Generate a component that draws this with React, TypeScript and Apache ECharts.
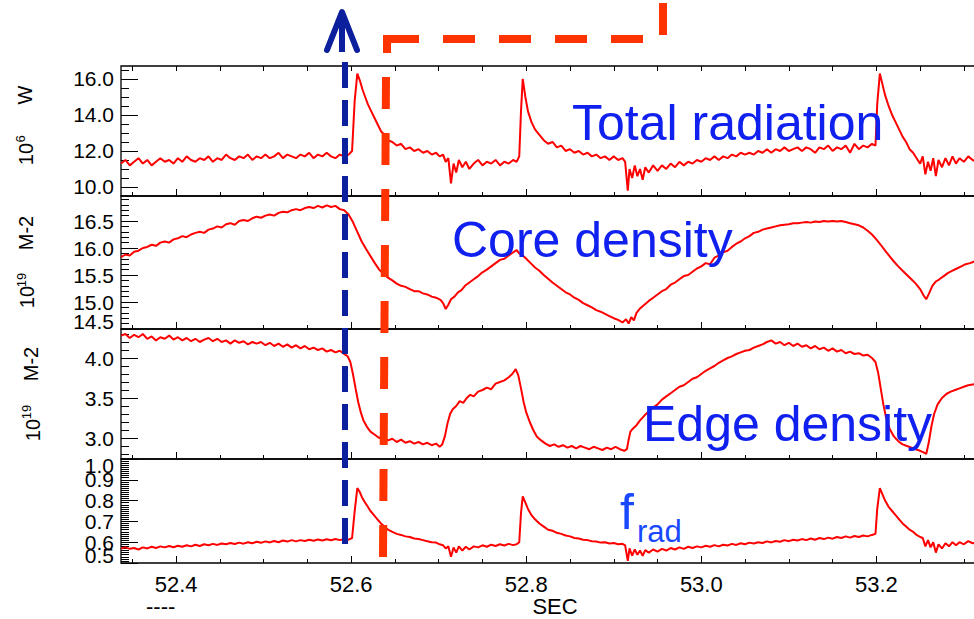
import React, { useEffect, useRef } from "react";
import * as echarts from "echarts";

// ---------- data ----------
const radiation: number[][] = [
  [52.337,11.3],[52.342,11.5],[52.347,11.2],[52.352,11.4],[52.357,11.6],[52.362,11.3],[52.367,11.5],[52.372,11.2],[52.377,11.4],[52.382,11.6],
  [52.387,11.4],[52.392,11.5],[52.397,11.3],[52.402,11.6],[52.407,11.4],[52.412,11.7],[52.417,11.5],[52.422,11.4],[52.427,11.6],[52.432,11.5],
  [52.437,11.7],[52.442,11.4],[52.447,11.6],[52.452,11.5],[52.457,11.8],[52.462,11.6],[52.467,11.5],[52.472,11.7],[52.477,11.6],[52.482,11.8],
  [52.487,11.5],[52.492,11.7],[52.497,11.6],[52.502,11.8],[52.507,11.6],[52.512,11.7],[52.517,11.9],[52.522,11.6],[52.527,11.8],[52.532,11.7],
  [52.537,11.6],[52.542,11.8],[52.547,11.7],[52.552,11.9],[52.557,11.6],[52.562,11.8],[52.567,11.7],[52.572,11.9],[52.577,11.7],[52.582,11.6],
  [52.587,11.8],[52.592,11.7],[52.597,11.8],[52.601,12.0],
  [52.604,14.8],[52.607,16.3],[52.610,15.9],[52.613,15.4],[52.616,15.0],[52.619,14.6],[52.622,14.3],[52.626,13.9],[52.630,13.5],[52.634,13.1],
  [52.638,12.9],[52.642,12.6],[52.647,12.5],[52.652,12.3],[52.657,12.4],[52.662,12.1],[52.667,12.2],[52.672,12.0],[52.677,12.1],[52.682,11.9],
  [52.687,12.0],[52.692,11.8],[52.697,11.9],[52.701,11.7],[52.705,11.8],[52.708,11.4],[52.711,11.6],[52.714,10.2],[52.717,11.3],[52.720,10.8],
  [52.723,11.5],[52.727,11.1],[52.731,11.4],[52.735,11.0],[52.740,11.3],[52.745,11.5],[52.750,11.2],[52.755,11.4],[52.760,11.3],[52.765,11.5],
  [52.770,11.2],[52.775,11.4],[52.780,11.3],[52.785,11.5],[52.789,11.4],[52.792,11.7],
  [52.794,14.2],[52.796,16.0],[52.799,15.0],[52.802,14.2],[52.806,13.6],[52.810,13.2],[52.815,12.9],[52.820,12.6],[52.825,12.4],[52.830,12.5],
  [52.835,12.2],[52.840,12.3],[52.845,12.0],[52.850,12.1],[52.855,11.9],[52.860,12.0],[52.865,11.8],[52.870,11.9],[52.875,11.7],[52.880,11.8],
  [52.885,11.6],[52.890,11.7],[52.895,11.5],[52.900,11.7],[52.905,11.5],[52.910,11.6],[52.913,11.4],
  [52.916,9.8],[52.918,11.0],[52.921,10.5],[52.924,11.2],[52.927,10.6],[52.930,11.0],[52.933,10.4],[52.936,11.1],[52.940,10.8],[52.945,11.2],
  [52.950,10.9],[52.955,11.2],[52.960,11.0],[52.965,11.3],[52.970,11.1],[52.975,11.4],[52.980,11.2],[52.985,11.4],[52.990,11.3],[52.995,11.5],
  [53.000,11.4],[53.005,11.6],[53.010,11.5],[53.015,11.7],[53.020,11.5],[53.025,11.7],[53.030,11.6],[53.035,11.8],[53.040,11.7],[53.045,11.9],
  [53.050,11.8],[53.055,11.9],[53.060,11.8],[53.065,12.0],[53.070,11.9],[53.075,12.1],[53.080,11.9],[53.085,12.1],[53.090,12.0],[53.095,12.2],
  [53.100,12.0],[53.105,12.1],[53.110,12.2],[53.115,12.0],[53.120,12.2],[53.125,12.1],[53.130,11.9],[53.135,12.2],[53.140,12.1],[53.145,12.3],
  [53.150,12.0],[53.155,12.2],[53.160,12.1],[53.165,12.3],[53.170,11.9],[53.175,12.4],[53.180,12.1],[53.185,12.3],[53.190,12.2],[53.195,12.4],
  [53.199,12.3],
  [53.201,14.6],[53.204,16.3],[53.207,15.7],[53.210,15.1],[53.214,14.5],[53.218,14.0],[53.222,13.6],[53.226,13.2],[53.230,12.8],[53.234,12.5],
  [53.238,12.1],[53.242,11.9],[53.246,11.6],[53.250,11.3],[53.253,11.7],[53.256,10.7],[53.259,11.4],[53.262,10.9],[53.265,11.6],[53.268,10.6],
  [53.271,11.5],[53.275,11.1],[53.279,11.6],[53.283,11.2],[53.287,11.7],[53.291,11.3],[53.295,11.6],[53.300,11.4],[53.305,11.7],[53.310,11.5],
  [53.315,11.4],[53.320,11.6],[53.326,11.5],[53.331,11.6],
];

const coreDensity: number[][] = [
  [52.337,15.83],[52.342,15.88],[52.347,15.86],[52.352,15.93],[52.357,15.95],[52.362,16.0],[52.367,16.02],[52.372,16.06],[52.377,16.04],[52.382,16.1],
  [52.387,16.12],[52.392,16.1],[52.397,16.16],[52.402,16.18],[52.407,16.22],[52.412,16.2],[52.417,16.25],[52.422,16.28],[52.427,16.3],[52.432,16.28],
  [52.437,16.34],[52.442,16.36],[52.447,16.4],[52.452,16.38],[52.457,16.44],[52.462,16.46],[52.467,16.43],[52.472,16.5],[52.477,16.52],[52.482,16.5],
  [52.487,16.55],[52.492,16.58],[52.497,16.56],[52.502,16.6],[52.507,16.62],[52.512,16.6],[52.517,16.65],[52.522,16.67],[52.527,16.66],[52.532,16.7],
  [52.537,16.72],[52.542,16.7],[52.547,16.74],[52.552,16.76],[52.557,16.74],[52.562,16.78],[52.567,16.75],[52.572,16.79],[52.577,16.76],[52.582,16.78],
  [52.587,16.72],[52.592,16.7],[52.597,16.62],[52.602,16.48],[52.607,16.3],[52.612,16.12],[52.617,15.98],[52.622,15.85],[52.627,15.72],[52.632,15.6],
  [52.637,15.52],[52.642,15.45],[52.647,15.4],[52.652,15.34],[52.657,15.3],[52.662,15.28],[52.667,15.24],[52.672,15.2],[52.677,15.2],[52.682,15.16],
  [52.687,15.14],[52.692,15.1],[52.697,15.08],[52.702,15.04],[52.705,14.98],[52.708,14.87],[52.711,14.95],[52.714,15.05],[52.718,15.1],[52.722,15.18],
  [52.726,15.22],[52.730,15.3],[52.735,15.36],[52.740,15.42],[52.745,15.48],[52.750,15.55],[52.755,15.6],[52.760,15.66],[52.765,15.72],[52.770,15.78],
  [52.775,15.8],[52.780,15.86],[52.785,15.92],[52.789,15.96],[52.792,15.9],[52.796,15.86],[52.800,15.8],[52.805,15.72],[52.810,15.64],[52.815,15.58],
  [52.820,15.5],[52.825,15.43],[52.830,15.36],[52.835,15.3],[52.840,15.24],[52.845,15.18],[52.850,15.14],[52.855,15.08],[52.860,15.04],[52.865,14.98],
  [52.870,14.94],[52.875,14.9],[52.880,14.85],[52.885,14.82],[52.890,14.78],[52.895,14.74],[52.900,14.7],[52.905,14.67],[52.910,14.62],[52.914,14.68],
  [52.917,14.6],[52.920,14.72],[52.923,14.66],[52.926,14.8],[52.930,14.88],[52.935,14.95],[52.940,15.02],[52.945,15.08],[52.950,15.14],[52.955,15.2],
  [52.960,15.24],[52.965,15.32],[52.970,15.36],[52.975,15.42],[52.980,15.48],[52.985,15.5],[52.990,15.56],[52.995,15.62],[53.000,15.66],[53.005,15.72],
  [53.010,15.7],[53.015,15.82],[53.020,15.86],[53.025,15.92],[53.030,15.95],[53.035,16.02],[53.040,16.08],[53.045,16.12],[53.050,16.18],[53.055,16.22],
  [53.060,16.28],[53.065,16.3],[53.070,16.34],[53.075,16.36],[53.080,16.38],[53.085,16.4],[53.090,16.42],[53.095,16.43],[53.100,16.44],[53.105,16.46],
  [53.110,16.46],[53.115,16.47],[53.120,16.48],[53.125,16.47],[53.130,16.49],[53.135,16.48],[53.140,16.5],[53.145,16.49],[53.150,16.5],[53.155,16.49],
  [53.160,16.5],[53.165,16.48],[53.170,16.46],[53.175,16.44],[53.180,16.42],[53.185,16.38],[53.190,16.32],[53.195,16.25],[53.200,16.16],[53.205,16.06],
  [53.210,15.95],[53.215,15.85],[53.220,15.75],[53.225,15.66],[53.230,15.58],[53.235,15.5],[53.240,15.42],[53.245,15.34],[53.250,15.24],[53.254,15.12],
  [53.257,15.05],[53.260,15.15],[53.264,15.3],[53.268,15.38],[53.272,15.42],[53.277,15.48],[53.282,15.54],[53.287,15.58],[53.292,15.62],[53.297,15.66],
  [53.302,15.7],[53.307,15.72],[53.312,15.75],[53.317,15.78],[53.322,15.8],[53.327,15.78],[53.331,15.8],
];

const edgeDensity: number[][] = [
  [52.337,4.28],[52.342,4.3],[52.347,4.25],[52.352,4.29],[52.357,4.26],[52.362,4.3],[52.367,4.24],[52.372,4.27],[52.377,4.22],[52.382,4.26],
  [52.387,4.24],[52.392,4.28],[52.397,4.23],[52.402,4.26],[52.407,4.22],[52.412,4.25],[52.417,4.21],[52.422,4.24],[52.427,4.2],[52.432,4.23],
  [52.437,4.25],[52.442,4.21],[52.447,4.24],[52.452,4.2],[52.457,4.22],[52.462,4.18],[52.467,4.22],[52.472,4.19],[52.477,4.21],[52.482,4.17],
  [52.487,4.2],[52.492,4.18],[52.497,4.2],[52.502,4.16],[52.507,4.19],[52.512,4.15],[52.517,4.18],[52.522,4.14],[52.527,4.17],[52.532,4.13],
  [52.537,4.16],[52.542,4.12],[52.547,4.15],[52.552,4.11],[52.557,4.13],[52.562,4.1],[52.567,4.12],[52.572,4.08],[52.577,4.1],[52.582,4.07],
  [52.587,4.09],[52.592,4.05],[52.596,4.02],[52.599,3.95],[52.602,3.8],[52.605,3.62],[52.608,3.45],[52.611,3.32],[52.614,3.22],[52.618,3.14],
  [52.622,3.08],[52.627,3.04],[52.632,3.0],[52.637,3.02],[52.642,2.97],[52.647,2.99],[52.652,2.95],[52.657,2.98],[52.662,2.94],[52.667,2.96],
  [52.672,2.93],[52.677,2.95],[52.682,2.92],[52.687,2.94],[52.692,2.91],[52.697,2.93],[52.701,2.89],[52.704,2.92],[52.707,3.02],[52.710,3.18],
  [52.713,3.3],[52.716,3.36],[52.720,3.4],[52.724,3.46],[52.728,3.44],[52.732,3.5],[52.736,3.54],[52.740,3.52],[52.745,3.58],[52.750,3.6],
  [52.755,3.63],[52.760,3.61],[52.765,3.68],[52.770,3.7],[52.775,3.72],[52.780,3.76],[52.784,3.8],[52.788,3.86],[52.791,3.78],[52.794,3.62],
  [52.797,3.45],[52.800,3.32],[52.804,3.2],[52.808,3.1],[52.812,3.02],[52.817,2.97],[52.822,2.93],[52.827,2.9],[52.832,2.92],[52.837,2.89],
  [52.842,2.91],[52.847,2.88],[52.852,2.9],[52.857,2.87],[52.862,2.9],[52.867,2.88],[52.872,2.86],[52.877,2.89],[52.882,2.87],[52.887,2.85],
  [52.892,2.88],[52.897,2.86],[52.902,2.89],[52.907,2.86],[52.912,2.84],[52.915,2.86],[52.917,2.98],[52.919,3.08],[52.922,3.12],[52.926,3.16],
  [52.930,3.22],[52.935,3.28],[52.940,3.33],[52.945,3.38],[52.950,3.42],[52.955,3.48],[52.960,3.52],[52.965,3.56],[52.970,3.6],[52.975,3.64],
  [52.980,3.66],[52.985,3.7],[52.990,3.74],[52.995,3.76],[53.000,3.8],[53.005,3.84],[53.010,3.87],[53.015,3.9],[53.020,3.94],[53.025,3.97],
  [53.030,4.0],[53.035,4.02],[53.040,4.05],[53.045,4.07],[53.050,4.09],[53.055,4.1],[53.060,4.13],[53.065,4.15],[53.070,4.17],[53.075,4.2],
  [53.080,4.22],[53.085,4.18],[53.090,4.2],[53.095,4.16],[53.100,4.19],[53.105,4.15],[53.110,4.18],[53.115,4.14],[53.120,4.16],[53.125,4.12],
  [53.130,4.15],[53.135,4.11],[53.140,4.13],[53.145,4.09],[53.150,4.12],[53.155,4.08],[53.160,4.1],[53.165,4.06],[53.170,4.08],[53.175,4.05],
  [53.180,4.06],[53.185,4.03],[53.190,4.04],[53.195,4.0],[53.199,3.95],[53.202,3.82],[53.205,3.62],[53.208,3.42],[53.211,3.26],[53.215,3.12],
  [53.220,3.02],[53.225,2.96],[53.230,2.92],[53.235,2.9],[53.240,2.88],[53.245,2.86],[53.250,2.84],[53.254,2.82],[53.257,2.8],[53.260,2.95],
  [53.263,3.15],[53.266,3.3],[53.270,3.42],[53.275,3.5],[53.280,3.55],[53.285,3.58],[53.290,3.6],[53.295,3.62],[53.300,3.64],[53.305,3.66],
  [53.310,3.67],[53.315,3.68],[53.320,3.7],[53.326,3.69],[53.331,3.7],
];

const fRad: number[][] = [
  [52.337,0.57],[52.342,0.575],[52.347,0.568],[52.352,0.572],[52.357,0.565],[52.362,0.575],[52.367,0.57],[52.372,0.578],[52.377,0.572],[52.382,0.58],
  [52.387,0.575],[52.392,0.582],[52.397,0.576],[52.402,0.583],[52.407,0.578],[52.412,0.585],[52.417,0.58],[52.422,0.588],[52.427,0.582],[52.432,0.59],
  [52.437,0.585],[52.442,0.592],[52.447,0.587],[52.452,0.594],[52.457,0.59],[52.462,0.596],[52.467,0.591],[52.472,0.598],[52.477,0.593],[52.482,0.6],
  [52.487,0.595],[52.492,0.602],[52.497,0.597],[52.502,0.604],[52.507,0.599],[52.512,0.606],[52.517,0.6],[52.522,0.608],[52.527,0.603],[52.532,0.61],
  [52.537,0.604],[52.542,0.61],[52.547,0.606],[52.552,0.612],[52.557,0.607],[52.562,0.613],[52.567,0.608],[52.572,0.614],[52.577,0.609],[52.582,0.615],
  [52.587,0.61],[52.592,0.616],[52.597,0.612],[52.601,0.62],
  [52.604,0.75],[52.607,0.86],[52.610,0.84],[52.613,0.81],[52.616,0.79],[52.619,0.77],[52.622,0.75],[52.626,0.73],[52.630,0.71],[52.634,0.69],
  [52.638,0.675],[52.642,0.66],[52.647,0.65],[52.652,0.64],[52.657,0.635],[52.662,0.628],[52.667,0.625],[52.672,0.618],[52.677,0.615],[52.682,0.61],
  [52.687,0.605],[52.692,0.6],[52.697,0.598],[52.701,0.59],[52.705,0.585],[52.708,0.57],[52.711,0.58],[52.714,0.53],[52.717,0.575],[52.720,0.55],
  [52.723,0.58],[52.727,0.56],[52.731,0.578],[52.735,0.565],[52.740,0.58],[52.745,0.575],[52.750,0.585],[52.755,0.578],[52.760,0.588],[52.765,0.582],
  [52.770,0.59],[52.775,0.584],[52.780,0.592],[52.785,0.586],[52.789,0.59],[52.792,0.6],
  [52.794,0.74],[52.796,0.82],[52.799,0.79],[52.802,0.76],[52.806,0.73],[52.810,0.71],[52.815,0.69],[52.820,0.675],[52.825,0.66],[52.830,0.655],
  [52.835,0.645],[52.840,0.64],[52.845,0.632],[52.850,0.628],[52.855,0.62],[52.860,0.618],[52.865,0.612],[52.870,0.61],[52.875,0.605],[52.880,0.603],
  [52.885,0.598],[52.890,0.6],[52.895,0.594],[52.900,0.596],[52.905,0.59],[52.910,0.592],[52.913,0.585],
  [52.916,0.51],[52.918,0.57],[52.921,0.535],[52.924,0.565],[52.927,0.54],[52.930,0.56],[52.933,0.535],[52.936,0.562],[52.940,0.55],[52.945,0.565],
  [52.950,0.555],[52.955,0.568],[52.960,0.56],[52.965,0.572],[52.970,0.565],[52.975,0.575],[52.980,0.568],[52.985,0.578],[52.990,0.572],[52.995,0.58],
  [53.000,0.575],[53.005,0.583],[53.010,0.578],[53.015,0.586],[53.020,0.58],[53.025,0.588],[53.030,0.584],[53.035,0.592],[53.040,0.587],[53.045,0.595],
  [53.050,0.59],[53.055,0.598],[53.060,0.594],[53.065,0.6],[53.070,0.596],[53.075,0.604],[53.080,0.599],[53.085,0.606],[53.090,0.602],[53.095,0.61],
  [53.100,0.605],[53.105,0.612],[53.110,0.608],[53.115,0.615],[53.120,0.61],[53.125,0.618],[53.130,0.612],[53.135,0.62],[53.140,0.615],[53.145,0.622],
  [53.150,0.617],[53.155,0.625],[53.160,0.62],[53.165,0.628],[53.170,0.622],[53.175,0.63],[53.180,0.625],[53.185,0.632],[53.190,0.628],[53.195,0.635],
  [53.199,0.64],
  [53.201,0.76],[53.204,0.86],[53.207,0.83],[53.210,0.8],[53.214,0.77],[53.218,0.75],[53.222,0.73],[53.226,0.71],[53.230,0.69],[53.234,0.675],
  [53.238,0.66],[53.242,0.65],[53.246,0.635],[53.250,0.625],[53.253,0.62],[53.256,0.58],[53.259,0.61],[53.262,0.575],[53.265,0.6],[53.268,0.55],
  [53.271,0.59],[53.275,0.57],[53.279,0.595],[53.283,0.58],[53.287,0.6],[53.291,0.585],[53.295,0.6],[53.300,0.59],[53.305,0.605],[53.310,0.595],
  [53.315,0.6],[53.320,0.592],[53.326,0.602],[53.331,0.598],
];

const xTickLabels = [52.4, 52.6, 52.8, 53.0, 53.2];
const radTicks = [10, 12, 14, 16];
const coreTicks = [14.5, 15, 15.5, 16, 16.5];
const edgeTicks = [3.0, 3.5, 4.0];
const fradTicks = [0.5, 0.6, 0.7, 0.8, 0.9, 1.0];

// axis titles: [base, superscript, unit]
const radTitle = ["10", "6", "W"];
const coreTitle = ["10", "19", "M-2"];
const edgeTitle = ["10", "19", "M-2"];

// ---------- helpers ----------
function steps(a: number, b: number, step: number, exclude: number[]) {
  const out: number[] = [];
  const n = Math.round((b - a) / step);
  for (let i = 0; i <= n; i++) {
    const v = +(a + i * step).toFixed(4);
    if (!exclude.some((e) => Math.abs(e - v) < 1e-6)) out.push(v);
  }
  return out;
}

const FONT = "'Liberation Sans', Arial, Helvetica, sans-serif";
const X_MIN = 52.337;
const X_MAX = 53.331;
const GRID_LEFT = 121;
const GRID_WIDTH = 870;

const xMinor = steps(52.35, 53.3, 0.05, xTickLabels);
const xAll = steps(52.35, 53.3, 0.05, []);

const panels = [
  { top: 66, height: 130, min: 9.5, max: 16.72, major: radTicks, minor: steps(10, 16.5, 0.5, radTicks), data: radiation, lo: false, hi: false },
  { top: 196, height: 133, min: 14.5, max: 16.963, major: coreTicks, minor: steps(14.6, 16.9, 0.1, coreTicks), data: coreDensity, lo: true, hi: false },
  { top: 329, height: 130, min: 2.7375, max: 4.3625, major: edgeTicks, minor: steps(2.8, 4.3, 0.1, edgeTicks), data: edgeDensity, lo: false, hi: false },
  { top: 459, height: 104, min: 0.5, max: 1.0, major: fradTicks, minor: steps(0.51, 0.99, 0.01, fradTicks), data: fRad, lo: true, hi: true },
];

// rotated text (reads bottom to top)
function vText(x: number, y: number, text: string, size: number) {
  return {
    type: "text", x, y, rotation: Math.PI / 2, z: 100,
    style: { text, fontSize: size, fontFamily: FONT, fill: "#000", align: "center", verticalAlign: "middle" },
  };
}

export default function App() {
  const ref = useRef<HTMLDivElement>(null);
  useEffect(() => {
    if (!ref.current) return;
    const chart = echarts.init(ref.current, null, { renderer: "svg" });
    const grid: any[] = [];
    const xAxis: any[] = [];
    const yAxis: any[] = [];
    const series: any[] = [];
    const tickStyle = { color: "#000", width: 1 };
    const noLine = { show: false, onZero: false };

    panels.forEach((p, i) => {
      grid.push({
        left: GRID_LEFT, top: p.top, width: GRID_WIDTH, height: p.height,
        show: true, borderColor: "#000", borderWidth: 1.3, backgroundColor: "transparent",
      });
      const xMajorIndex = xAxis.length;
      xAxis.push({
        gridIndex: i, type: "value", min: X_MIN, max: X_MAX, position: "bottom",
        axisLine: noLine, splitLine: { show: false },
        axisTick: { show: true, inside: true, length: 7, customValues: xTickLabels, lineStyle: tickStyle },
        axisLabel: {
          show: i === 3, customValues: xTickLabels, fontSize: 22, margin: 10, color: "#000", fontFamily: FONT,
          formatter: (v: number) => v.toFixed(1),
        },
      });
      xAxis.push({
        gridIndex: i, type: "value", min: X_MIN, max: X_MAX, position: "bottom",
        axisLine: noLine, splitLine: { show: false },
        axisTick: { show: true, inside: true, length: 4, customValues: xMinor, lineStyle: tickStyle },
        axisLabel: { show: false },
      });
      const yMainIndex = yAxis.length;
      yAxis.push({
        gridIndex: i, type: "value", min: p.min, max: p.max, position: "left",
        axisLine: noLine, splitLine: { show: false },
        axisTick: { show: true, inside: true, length: 17, customValues: p.major, lineStyle: tickStyle },
        axisLabel: { show: false },
      });
      yAxis.push({
        gridIndex: i, type: "value", min: p.min, max: p.max, position: "left",
        axisLine: noLine, splitLine: { show: false },
        axisTick: { show: true, inside: true, length: 8, customValues: p.minor, lineStyle: tickStyle },
        axisLabel: { show: false },
      });
      // labels split into alternating groups so none is hidden by overlap checks
      [0, 1].forEach((parity) => {
        const vals = p.major.filter((_, k) => k % 2 === parity);
        yAxis.push({
          gridIndex: i, type: "value", min: p.min, max: p.max, position: "left",
          axisLine: noLine, splitLine: { show: false }, axisTick: { show: false },
          axisLabel: {
            show: true, customValues: vals, fontSize: 21, margin: 7, color: "#000", fontFamily: FONT,
            showMinLabel: true, showMaxLabel: true,
            formatter: (v: number) => {
              const s = v.toFixed(1);
              if (p.lo && Math.abs(v - p.min) < 1e-6) return `{lo|${s}}`;
              if (p.hi && Math.abs(v - p.max) < 1e-6) return `{hi|${s}}`;
              return s;
            },
            rich: {
              lo: { fontSize: 21, fontFamily: FONT, color: "#000", padding: [0, 0, 16, 0] },
              hi: { fontSize: 21, fontFamily: FONT, color: "#000", padding: [12, 0, 0, 0] },
            },
          },
        });
      });
      series.push({
        type: "line", xAxisIndex: xMajorIndex, yAxisIndex: yMainIndex, data: p.data,
        showSymbol: false, symbol: "none", clip: true,
        lineStyle: { color: "#ff0000", width: 2 },
      });
    });
    xAxis.push({
      gridIndex: 0, type: "value", min: X_MIN, max: X_MAX, position: "top",
      axisLine: noLine, splitLine: { show: false },
      axisTick: { show: true, inside: true, length: 5, customValues: xAll, lineStyle: tickStyle },
      axisLabel: { show: false },
    });

    const blue = "#0c1f9c";
    const red = "#ff3300";
    const annBlue = "#1020ee";
    const graphic: any[] = [
      // axis titles
      vText(25, 95, radTitle[2], 20),
      vText(26, 154, radTitle[0], 20),
      vText(20, 139, radTitle[1], 13),
      vText(26, 233, coreTitle[2], 20),
      vText(27, 297, coreTitle[0], 20),
      vText(21, 280, coreTitle[1], 13),
      vText(31, 364, edgeTitle[2], 20),
      vText(33, 430, edgeTitle[0], 20),
      vText(26, 412, edgeTitle[1], 13),
      { type: "text", x: 555, y: 606, z: 100,
        style: { text: "SEC", fontSize: 22, fontFamily: FONT, fill: "#000", align: "center", verticalAlign: "middle" } },
      { type: "text", x: 146, y: 606, z: 100,
        style: { text: "----", fontSize: 22, fontFamily: FONT, fill: "#000", align: "left", verticalAlign: "middle" } },
      // annotations
      { type: "text", x: 572, y: 123, z: 100,
        style: { text: "Total radiation", fontSize: 50, fontFamily: FONT, fill: annBlue, align: "left", verticalAlign: "middle" } },
      { type: "text", x: 452, y: 240, z: 100,
        style: { text: "Core density", fontSize: 50, fontFamily: FONT, fill: annBlue, align: "left", verticalAlign: "middle" } },
      { type: "text", x: 643, y: 424, z: 100,
        style: { text: "Edge density", fontSize: 50, fontFamily: FONT, fill: annBlue, align: "left", verticalAlign: "middle" } },
      { type: "text", x: 620, y: 512, z: 100,
        style: { text: "f", fontSize: 50, fontFamily: FONT, fill: "#1848ff", align: "left", verticalAlign: "middle" } },
      { type: "text", x: 637, y: 531, z: 100,
        style: { text: "rad", fontSize: 31, fontFamily: FONT, fill: "#1848ff", align: "left", verticalAlign: "middle" } },
      // blue dashed marker with arrow
      { type: "line", z: 110, shape: { x1: 345, y1: 62, x2: 345, y2: 552 },
        style: { stroke: blue, lineWidth: 6, lineDash: [26, 12] } },
      { type: "line", z: 110, shape: { x1: 342, y1: 14, x2: 342, y2: 52 },
        style: { stroke: blue, lineWidth: 6 } },
      { type: "polyline", z: 110, shape: { points: [[327, 50], [342, 12], [357, 50]] },
        style: { stroke: blue, lineWidth: 6, fill: null, lineCap: "round", lineJoin: "round" } },
      // red dashed marker
      { type: "polyline", z: 110, shape: { points: [[663, 3], [663, 39], [387, 39]] },
        style: { stroke: red, lineWidth: 8, fill: null, lineDash: [32, 24] } },
      { type: "line", z: 110, shape: { x1: 387, y1: 35, x2: 387, y2: 53 },
        style: { stroke: red, lineWidth: 8 } },
      { type: "line", z: 110, shape: { x1: 386, y1: 77, x2: 383, y2: 557 },
        style: { stroke: red, lineWidth: 8, lineDash: [32, 24] } },
    ];

    chart.setOption({
      animation: false,
      backgroundColor: "#fff",
      textStyle: { fontFamily: FONT },
      grid, xAxis, yAxis, series, graphic,
    });
    return () => chart.dispose();
  }, []);

  return (
    <div style={{ position: "fixed", left: 0, top: 0, width: 974, height: 619, overflow: "hidden", background: "#fff" }}>
      <div ref={ref} style={{ width: 1000, height: 619 }} />
    </div>
  );
}
